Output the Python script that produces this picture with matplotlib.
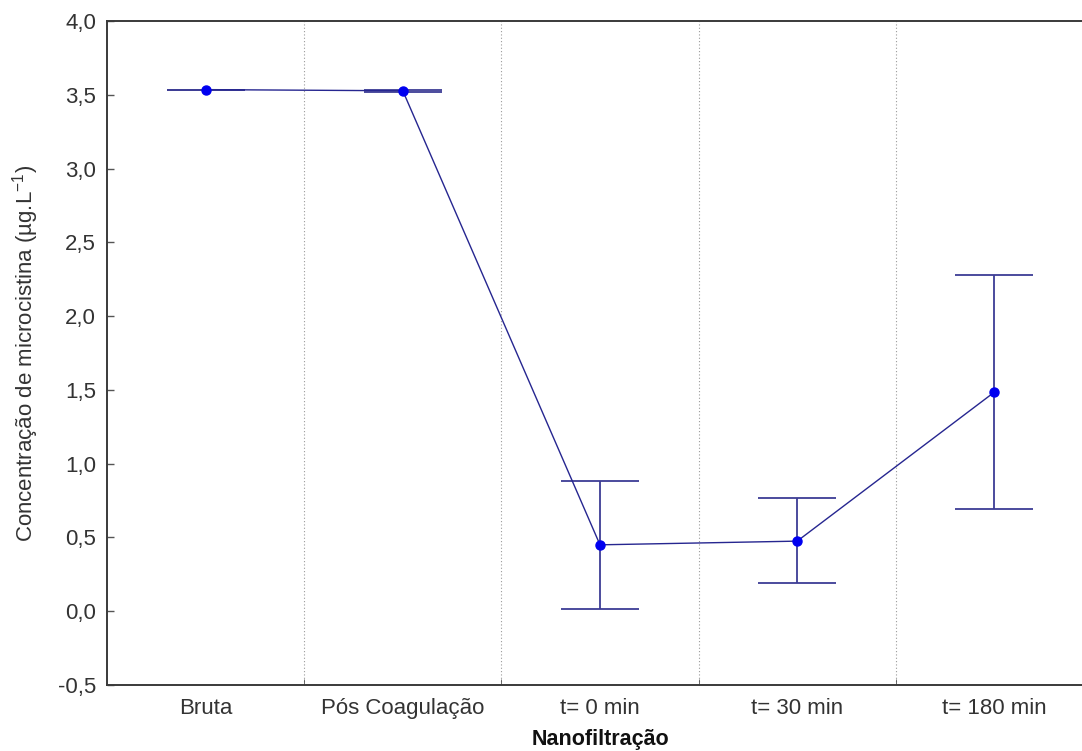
import matplotlib
matplotlib.use("Agg")
import matplotlib.pyplot as plt
from matplotlib.ticker import FuncFormatter, FixedLocator

categories = ["Bruta", "Pós Coagulação", "t= 0 min", "t= 30 min", "t= 180 min"]
means = [3.535, 3.527, 0.450, 0.475, 1.485]
lower = [3.535, 3.519, 0.015, 0.190, 0.692]
upper = [3.535, 3.535, 0.882, 0.765, 2.278]
y_ticks = [-0.5, 0.0, 0.5, 1.0, 1.5, 2.0, 2.5, 3.0, 3.5, 4.0]

plt.rcParams["font.family"] = ["Liberation Sans", "DejaVu Sans"]
plt.rcParams["mathtext.fontset"] = "custom"
plt.rcParams["mathtext.rm"] = "Liberation Sans"

fig = plt.figure(figsize=(10.82, 7.51), dpi=100)
ax = fig.add_axes([107 / 1082, 66 / 751, 986 / 1082, 664 / 751])

x = list(range(len(categories)))
err_lo = [m - l for m, l in zip(means, lower)]
err_hi = [u - m for m, u in zip(means, upper)]

# error bars with wide caps
ax.errorbar(x, means, yerr=[err_lo, err_hi], fmt="none", ecolor="#3d3d95",
            elinewidth=1.3, capsize=28, capthick=1.3, zorder=2)
# connecting line and markers
ax.plot(x, means, color="#262690", linewidth=1.0, zorder=3)
ax.plot(x, means, linestyle="none", marker="o", markersize=6.5,
        color="#0000f0", markeredgecolor="#0000f0", zorder=4)

ax.set_xlim(-0.5, len(categories) - 0.5)
ax.set_ylim(-0.5, 4.0)

ax.set_xticks(x)
ax.set_xticklabels(categories)
for lbl in ax.get_xticklabels():
    lbl.set_verticalalignment("baseline")
ax.xaxis.set_minor_locator(FixedLocator([0.5, 1.5, 2.5, 3.5]))
ax.tick_params(axis="x", which="major", length=0, pad=21, labelsize=16,
               labelcolor="#333333")
ax.tick_params(axis="x", which="minor", direction="in", length=4,
               color="#555555", top=False)
ax.grid(True, which="minor", axis="x", linestyle=(0, (1, 2)),
        color="#9a9a9a", linewidth=0.8)

ax.set_yticks(y_ticks)
ax.yaxis.set_major_formatter(FuncFormatter(lambda v, p: f"{v:.1f}".replace(".", ",")))
ax.tick_params(axis="y", direction="in", length=5, width=1, color="#555555",
               labelsize=16, labelcolor="#333333", pad=8)

for side in ["left", "bottom", "top", "right"]:
    ax.spines[side].set_color("#3a3a3a")
    ax.spines[side].set_linewidth(1.4)

ax.set_ylabel("Concentração de microcistina (µg.L$^{\\mathrm{-1}}$)", fontsize=16,
              color="#333333", labelpad=12)
ax.xaxis.set_label_coords(0.5, -44 / 664)
ax.set_xlabel("Nanofiltração", fontsize=15.5, fontweight="bold",
              color="#111111")

fig.savefig("out.png", dpi=100, facecolor="white")
